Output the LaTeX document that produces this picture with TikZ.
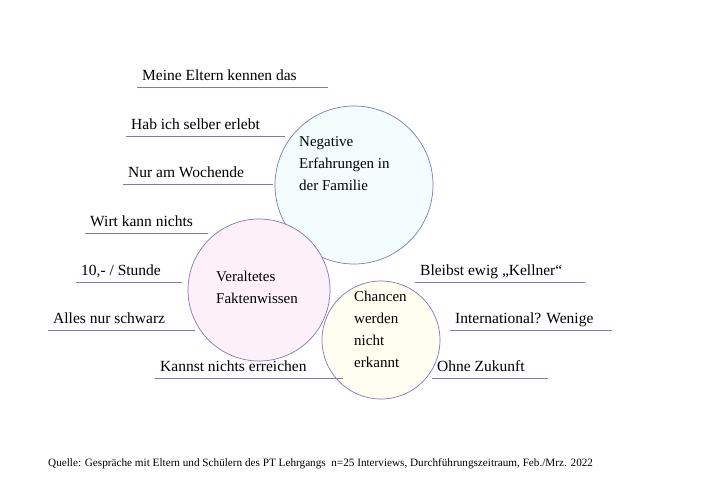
\documentclass[tikz,border=0pt]{standalone}
\usepackage{fontspec}
\setmainfont{Liberation Serif}
\definecolor{ln}{HTML}{7B78BE}
\begin{document}
\begin{tikzpicture}[x=1pt,y=-1pt,
  lbl/.style={anchor=base west,inner sep=0pt,font=\fontsize{15.5}{18}\selectfont},
  ul/.style={draw=ln,line width=0.7pt},
  bub/.style={circle,draw=ln,line width=0.7pt,inner sep=0pt},
  ctext/.style={align=left,font=\fontsize{15}{22}\selectfont,inner sep=0pt,anchor=north west}]
\useasboundingbox (0,0) rectangle (715,488);
\node[bub,fill=cyan!4,minimum size=158pt] (c1) at (354,185) {};
\node[bub,fill=magenta!6,minimum size=142pt] (c2) at (259,290) {};
\node[bub,fill=yellow!6,minimum size=118pt] (c3) at (381,340) {};
\node[ctext] (t1) at (299,136) {Negative\\Erfahrungen in\\der Familie};
\node[ctext] (t2) at (216,271) {Veraltetes\\Faktenwissen};
\node[ctext] (t3) at (354,291) {Chancen\\werden\\nicht\\erkannt};
\foreach \n/\t/\xa/\xb/\y [count=\i] in {
  a/Meine Eltern kennen das/137/328/87,
  b/Hab ich selber erlebt/126/285/136,
  c/Nur am Wochende/123/273/184,
  d/Wirt kann nichts/85/208/233,
  e/{10,- / Stunde}/76/182/282,
  f/Alles nur schwarz/48/195/330,
  g/Kannst nichts erreichen/155/343/378,
  h/{Bleibst ewig „Kellner“}/415/585/282,
  i/International? Wenige/450/612/330,
  j/Ohne Zukunft/432/548/378}{
  \coordinate (\n s) at (\xa,\y);
  \coordinate (\n e) at (\xb,\y);
  \draw[ul] (\n s) -- (\n e);
  \node[lbl] (\n) at (\xa+5,\y-7) {\t};
}
\node[anchor=base west,inner sep=0pt,font=\fontsize{11.2}{13}\selectfont] (src) at (48,466) {Quelle: Gespräche mit Eltern und Schülern des PT Lehrgangs\ \ n=25 Interviews, Durchführungszeitraum, Feb./Mrz. 2022};
\end{tikzpicture}
\end{document}
